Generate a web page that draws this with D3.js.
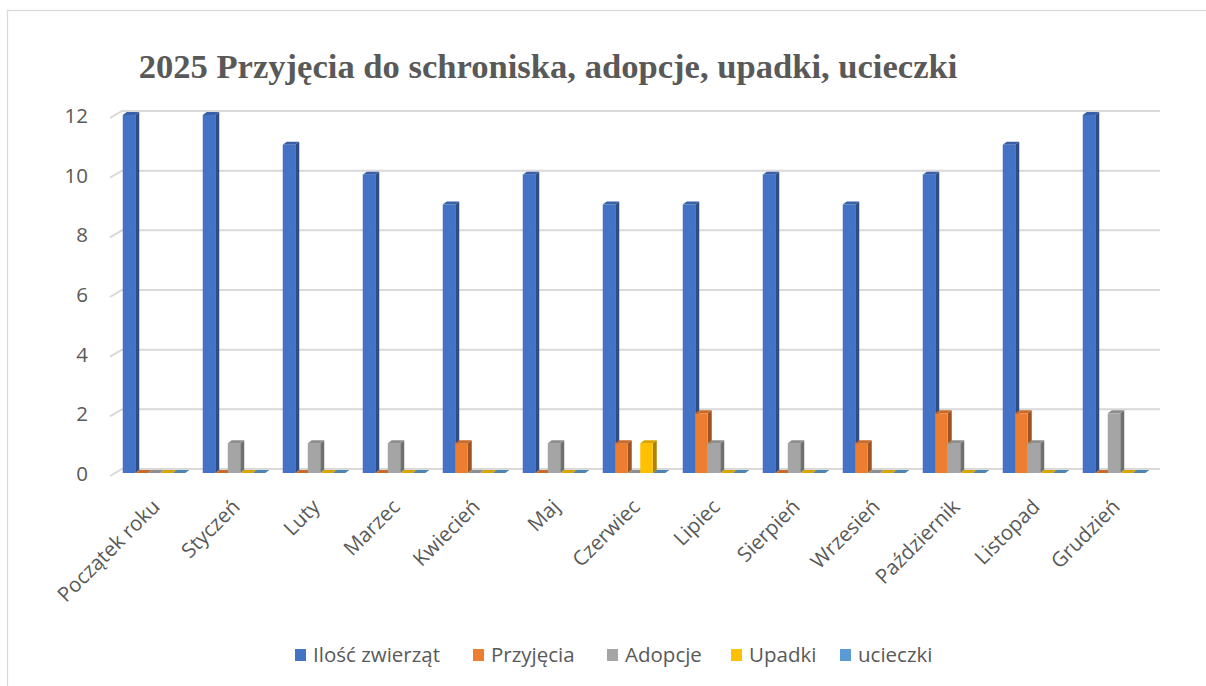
<!DOCTYPE html>
<html>
<head>
<meta charset="utf-8">
<script src="https://cdn.jsdelivr.net/npm/d3@7"></script>
<style>
  html, body { margin: 0; padding: 0; background: #fff; }
  svg { display: block; }
</style>
</head>
<body>
<div id="chart"></div>
<script>
// Chart data
var months = ["Początek roku", "Styczeń", "Luty", "Marzec", "Kwiecień", "Maj", "Czerwiec",
              "Lipiec", "Sierpień", "Wrzesień", "Październik", "Listopad", "Grudzień"];
var seriesNames = ["Ilość zwierząt", "Przyjęcia", "Adopcje", "Upadki", "ucieczki"];
var iloscZwierzat = [12, 12, 11, 10, 9, 10, 9, 9, 10, 9, 10, 11, 12];
var przyjecia     = [0, 0, 0, 0, 1, 0, 1, 2, 0, 1, 2, 2, 0];
var adopcje       = [0, 1, 1, 1, 0, 1, 0, 1, 1, 0, 1, 1, 2];
var upadki        = [0, 0, 0, 0, 0, 0, 1, 0, 0, 0, 0, 0, 0];
var ucieczki      = [0, 0, 0, 0, 0, 0, 0, 0, 0, 0, 0, 0, 0];
var yTicks = [0, 2, 4, 6, 8, 10, 12];

var seriesValues = [iloscZwierzat, przyjecia, adopcje, upadki, ucieczki];
var colors = ["#4472C4", "#ED7D31", "#A5A5A5", "#FFC000", "#5B9BD5"];

var width = 1206, height = 686,
    depthX = 4, depthY = 3,
    labelFont = "'Open Sans', 'DejaVu Sans', sans-serif",
    labelSize = "20.5px",
    textColor = "#595959",
    gridColor = "#d9d9d9";

var svg = d3.select("#chart").append("svg")
  .attr("width", width)
  .attr("height", height);

// chart area border
svg.append("rect")
  .attr("x", 7.5).attr("y", 10.5)
  .attr("width", 1205).attr("height", 690)
  .attr("fill", "#fff")
  .attr("stroke", gridColor)
  .attr("stroke-width", 1.3);

var x0 = d3.scaleBand()
  .domain(months)
  .range([114, 1154])
  .paddingInner(0.21875)
  .paddingOuter(0.109375);

var x1 = d3.scaleBand()
  .domain(seriesNames)
  .range([0, x0.bandwidth()]);

var y = d3.scaleLinear().domain([0, 12]).range([473, 115]);

// Gridlines on the back wall, with the slanted side edge
var grid = svg.append("g");
yTicks.forEach(function(t) {
  var yy = y(t);
  grid.append("path")
    .attr("d", "M110," + (yy + 3) + "L122," + (yy - 4) + "L1160," + (yy - 4))
    .attr("fill", "none")
    .attr("stroke", gridColor)
    .attr("stroke-width", 2);
});

// Y axis labels
var yAxis = svg.append("g")
  .attr("transform", "translate(88,1)")
  .call(d3.axisLeft(y).tickValues(yTicks).tickSize(0).tickPadding(0));
yAxis.select(".domain").remove();
yAxis.selectAll("text")
  .style("font-family", labelFont)
  .style("font-size", labelSize)
  .attr("fill", textColor);

// X axis labels (rotated)
var xAxis = svg.append("g")
  .attr("transform", "translate(2,503)")
  .call(d3.axisBottom(x0).tickSize(0).tickPadding(0));
xAxis.select(".domain").remove();
xAxis.selectAll("text")
  .style("font-family", labelFont)
  .style("font-size", labelSize)
  .attr("fill", textColor)
  .attr("y", 0)
  .attr("dy", "0.35em")
  .style("text-anchor", "end")
  .attr("transform", "rotate(-45)");

// 3D-ish bars: front, side and top faces
function shade(c, k) {
  return d3.color(c).darker(k).formatHex();
}

var bars = svg.append("g");
months.forEach(function(m, i) {
  seriesNames.forEach(function(s, j) {
    var v = seriesValues[j][i],
        left = x0(m) + x1(s),
        w = x1.bandwidth(),
        top = y(v),
        base = y(0),
        g = bars.append("g"),
        c = colors[j];

    // side face
    g.append("path")
      .attr("d", "M" + (left + w) + "," + top +
                 "L" + (left + w + depthX) + "," + (top - depthY) +
                 "L" + (left + w + depthX) + "," + (base - depthY) +
                 "L" + (left + w) + "," + base + "Z")
      .attr("fill", shade(c, 1.1));
    // front face
    if (v > 0) {
      g.append("rect")
        .attr("x", left).attr("y", top)
        .attr("width", w).attr("height", base - top)
        .attr("fill", c);
    }
    // top face
    g.append("path")
      .attr("d", "M" + left + "," + top +
                 "L" + (left + depthX) + "," + (top - depthY) +
                 "L" + (left + w + depthX) + "," + (top - depthY) +
                 "L" + (left + w) + "," + top + "Z")
      .attr("fill", shade(c, 0.45));
  });
});

// Title
svg.append("text")
  .attr("x", 548)
  .attr("y", 78)
  .attr("text-anchor", "middle")
  .style("font-family", "'Liberation Serif', 'DejaVu Serif', serif")
  .style("font-weight", "bold")
  .style("font-size", "34.6px")
  .attr("fill", textColor)
  .text("2025 Przyjęcia do schroniska, adopcje, upadki, ucieczki");

// Legend
var legendX = [295, 473, 607, 731, 840];
var legend = svg.append("g");
seriesNames.forEach(function(s, j) {
  legend.append("rect")
    .attr("x", legendX[j]).attr("y", 649)
    .attr("width", 11).attr("height", 12)
    .attr("fill", colors[j]);
  legend.append("text")
    .attr("x", legendX[j] + 18)
    .attr("y", 655)
    .attr("dy", "0.35em")
    .style("font-family", labelFont)
    .style("font-size", labelSize)
    .attr("fill", textColor)
    .text(s);
});
</script>
</body>
</html>
